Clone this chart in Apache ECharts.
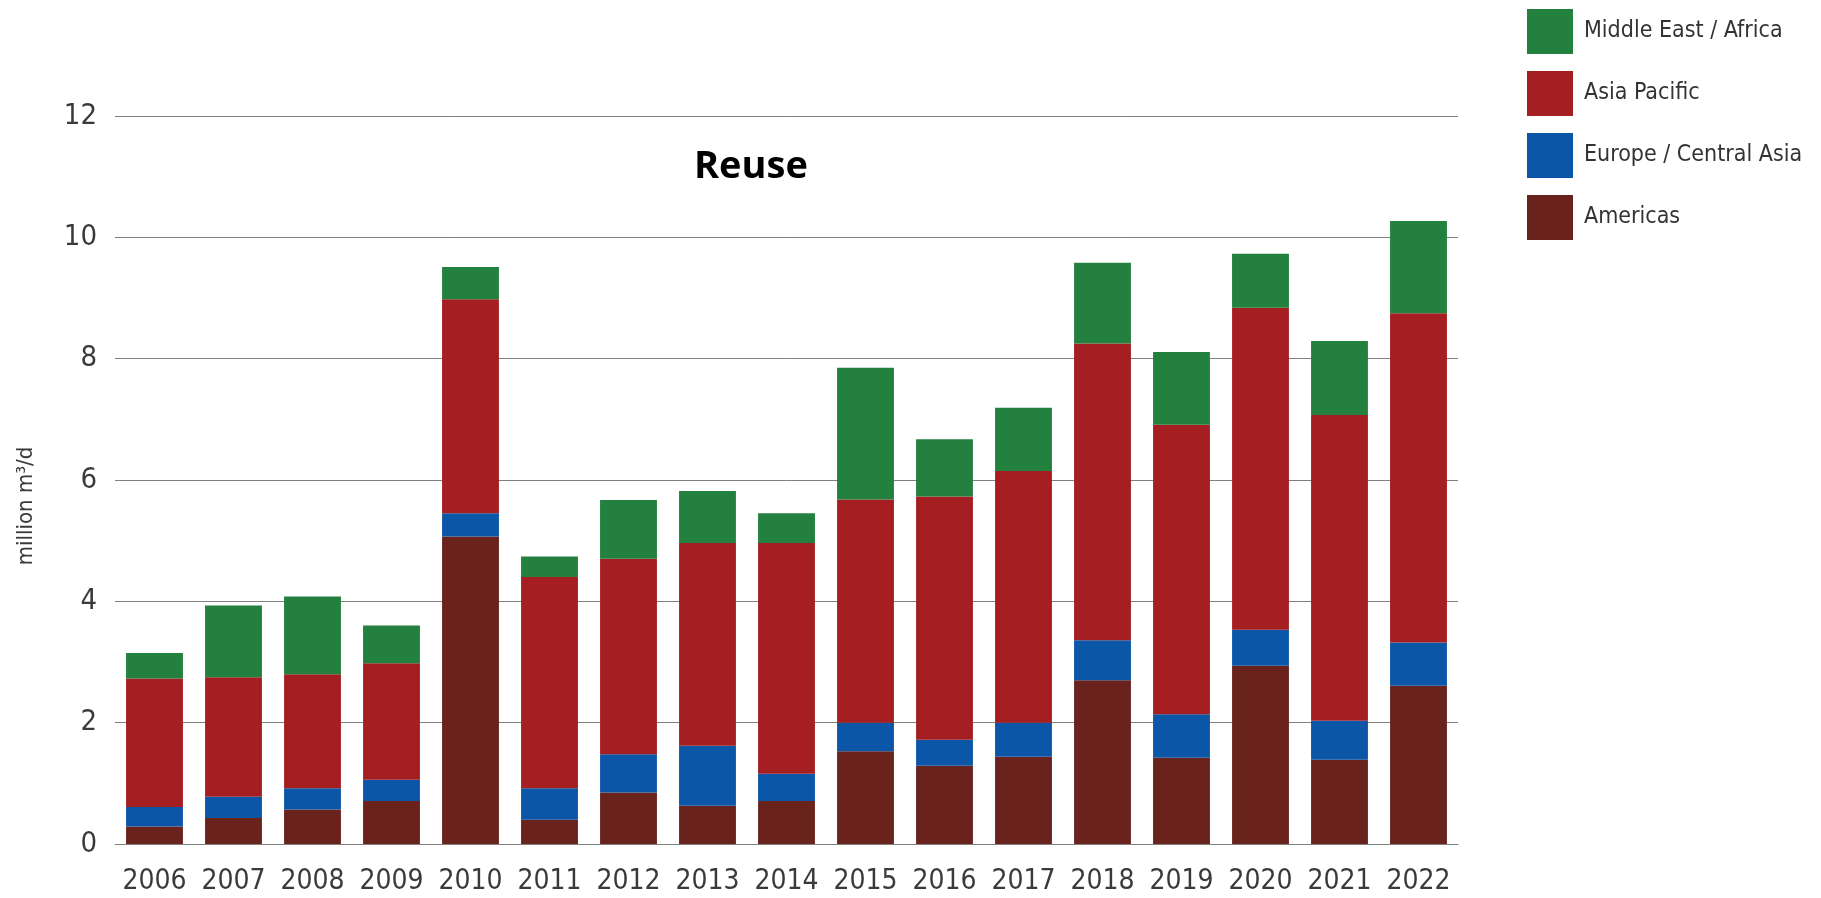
<!DOCTYPE html>
<html>
<head>
<meta charset="utf-8">
<script src="https://cdn.jsdelivr.net/npm/echarts@6/dist/echarts.min.js"></script>
<style>
html,body{margin:0;padding:0;background:#fff;}
#chart{width:1821px;height:898px;}
</style>
</head>
<body>
<div id="chart"></div>
<script>
const years = ['2006','2007','2008','2009','2010','2011','2012','2013','2014','2015','2016','2017','2018','2019','2020','2021','2022'];
const americas = [0.29,0.43,0.57,0.71,5.07,0.40,0.85,0.63,0.71,1.53,1.29,1.44,2.70,1.42,2.94,1.39,2.61];
const europeCentralAsia = [0.32,0.35,0.35,0.35,0.38,0.52,0.63,0.99,0.45,0.47,0.43,0.56,0.66,0.72,0.59,0.64,0.71];
const asiaPacific = [2.12,1.97,1.88,1.92,3.53,3.48,3.22,3.34,3.80,3.68,4.01,4.15,4.89,4.77,5.31,5.04,5.43];
const middleEastAfrica = [0.42,1.18,1.28,0.62,0.53,0.34,0.97,0.86,0.49,2.17,0.94,1.04,1.33,1.20,0.89,1.22,1.52];
const yTicks = [0,2,4,6,8,10,12];
const seriesNames = ['Americas','Europe / Central Asia','Asia Pacific','Middle East / Africa'];
const chartTitle = 'Reuse';
const yAxisName = 'million m³/d';

const narrow = "'Liberation Sans Narrow', 'DejaVu Sans Condensed', Roboto, sans-serif";
const colors = {
  'Americas':'#69221c',
  'Europe / Central Asia':'#0b56a6',
  'Asia Pacific':'#a51f22',
  'Middle East / Africa':'#23803e'
};
const dataMap = {
  'Americas': americas,
  'Europe / Central Asia': europeCentralAsia,
  'Asia Pacific': asiaPacific,
  'Middle East / Africa': middleEastAfrica
};

const chart = echarts.init(document.getElementById('chart'), null, {renderer:'canvas'});
chart.setOption({
  animation:false,
  backgroundColor:'#ffffff',
  graphic:[{
    type:'text', left:694, top:148,
    style:{text:chartTitle, font:"bold 38px 'Open Sans', sans-serif", fill:'#000'}
  },{
    type:'text', x:26, y:506, rotation:Math.PI/2,
    style:{text:yAxisName, font:"22px " + narrow, fill:'#3a3a3a', align:'center', verticalAlign:'middle'}
  }],
  legend:{
    orient:'vertical', left:1527, top:9, padding:0,
    itemWidth:46, itemHeight:45, itemGap:17,
    icon:'rect',
    data: seriesNames.slice().reverse(),
    textStyle:{fontFamily:narrow, fontSize:23, color:'#333', padding:[0,0,0,6]}
  },
  grid:{left:115, right:363, top:116, bottom:54, containLabel:false},
  xAxis:{
    type:'category', data:years,
    axisLine:{show:true, lineStyle:{color:'#808080', width:1}},
    axisTick:{show:false},
    axisLabel:{interval:0, fontFamily:narrow, fontSize:28, color:'#3a3a3a', margin:24}
  },
  yAxis:{
    type:'value', min:yTicks[0], max:yTicks[yTicks.length-1], interval:2,
    axisLine:{show:false}, axisTick:{show:false},
    splitLine:{lineStyle:{color:'#808080', width:1}},
    axisLabel:{fontFamily:narrow, fontSize:29, color:'#3a3a3a', margin:18}
  },
  series: seriesNames.map(n => ({
    name:n, type:'bar', stack:'total', data:dataMap[n],
    barCategoryGap:'28%',
    itemStyle:{color:colors[n]},
    emphasis:{disabled:true}
  }))
});
</script>
</body>
</html>
